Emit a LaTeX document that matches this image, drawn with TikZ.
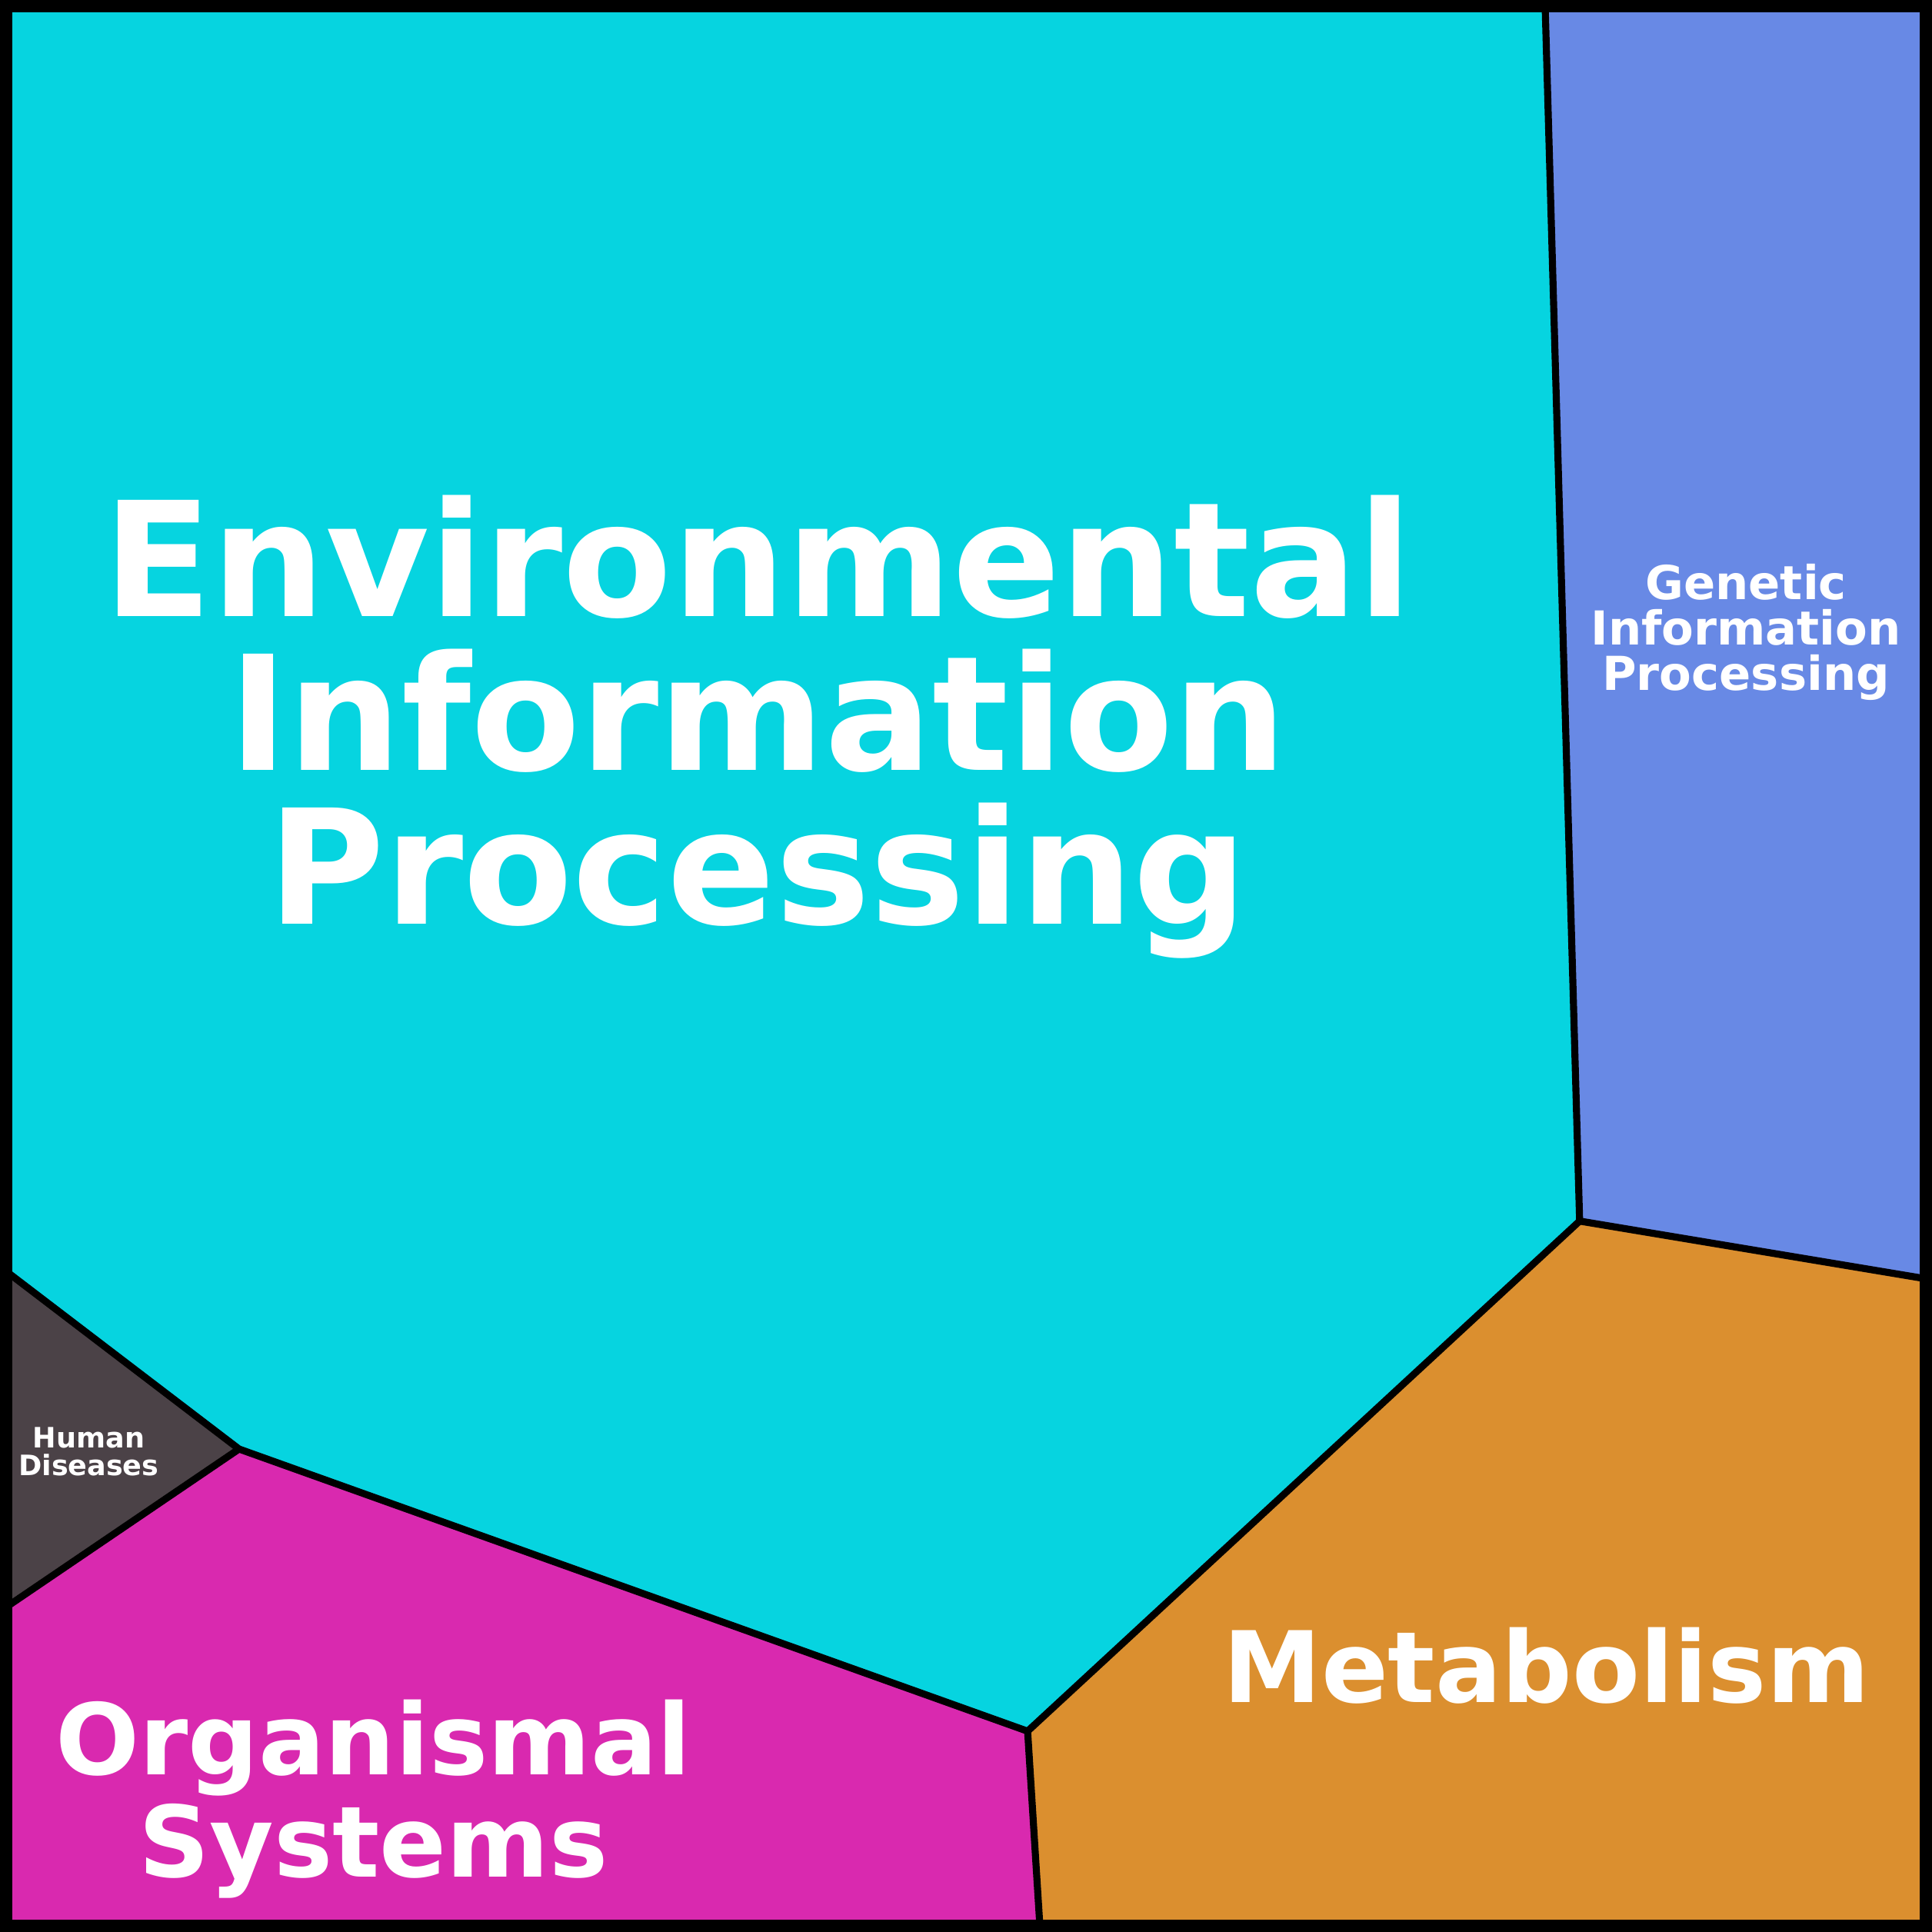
\documentclass[tikz,border=0pt]{standalone}
\usepackage{fontspec}
\setmainfont{DejaVu Sans}
\usetikzlibrary{positioning}
\definecolor{envcyan}{HTML}{06D4E0}
\definecolor{genblue}{HTML}{6889E5}
\definecolor{metorange}{HTML}{DB8F2F}
\definecolor{orgmagenta}{HTML}{D929AF}
\definecolor{humdark}{HTML}{4B4247}
\tikzset{
  cell/.style={draw=black,line width=2.6pt,line join=round},
  label/.style={text=white,font=\bfseries,align=center,inner sep=0pt},
}
\begin{document}
\begin{tikzpicture}[x=0.01602cm,y=-0.01602cm]
  \useasboundingbox (0,0) rectangle (1568,1568);
  % vertices of the cells
  \coordinate (tl) at (4,4);
  \coordinate (tr) at (1564,4);
  \coordinate (bl) at (4,1564);
  \coordinate (br) at (1564,1564);
  \coordinate (v1) at (1254,4);
  \coordinate (v2) at (1282,991);
  \coordinate (v3) at (1564,1038);
  \coordinate (v4) at (834,1405);
  \coordinate (v5) at (844,1564);
  \coordinate (v6) at (194,1176);
  \coordinate (v7) at (4,1031);
  \coordinate (v8) at (4,1305);

  \fill[envcyan] (tl) -- (v1) -- (v2) -- (v4) -- (v6) -- (v7) -- cycle;
  \fill[genblue] (v1) -- (tr) -- (v3) -- (v2) -- cycle;
  \fill[metorange] (v2) -- (v3) -- (br) -- (v5) -- (v4) -- cycle;
  \fill[orgmagenta] (v8) -- (v6) -- (v4) -- (v5) -- (bl) -- cycle;
  \fill[humdark] (v7) -- (v6) -- (v8) -- cycle;

  \draw[cell] (v1) -- (v2) -- (v3);
  \draw[cell] (v2) -- (v4) -- (v5);
  \draw[cell] (v4) -- (v6) -- (v7);
  \draw[cell] (v6) -- (v8);
  \draw[draw=black,line width=5.5pt] (tl) rectangle (br);

  \node[label,font=\bfseries\fontsize{59}{57}\selectfont] (env) at (615,590)
    {Environmental\\Information\\Processing};
  \node[label,font=\bfseries\fontsize{17.3}{16.8}\selectfont] (gen) at (1417,513)
    {Genetic\\Information\\Processing};
  \node[label,font=\bfseries\fontsize{36.5}{38}\selectfont] (met) at (1255,1352)
    {Metabolism};
  \node[label,font=\bfseries\fontsize{36.5}{38}\selectfont] (org) at (303,1460)
    {Organismal\\Systems};
  \node[label,font=\bfseries\fontsize{10.4}{10.4}\selectfont] (hum) at (72,1178)
    {Human\\Diseases};
\end{tikzpicture}
\end{document}
